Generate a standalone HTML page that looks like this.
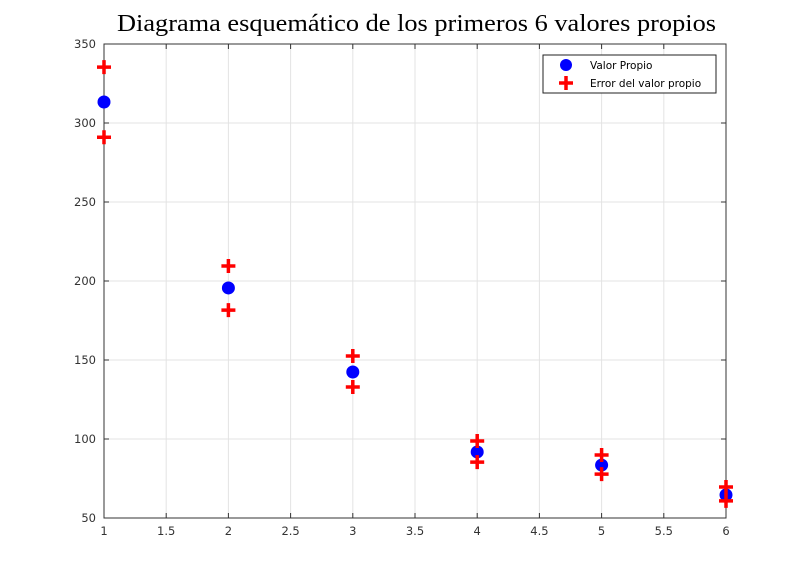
<!DOCTYPE html>
<html><head><meta charset="utf-8"><style>
body{margin:0;background:#fff;}
svg text{font-family:"DejaVu Sans","Liberation Sans",sans-serif;}
</style></head><body>
<svg id="chart" width="802" height="582" xmlns="http://www.w3.org/2000/svg">
<rect width="802" height="582" fill="#fff"/>
<text x="117" y="31" font-size="24" textLength="599" lengthAdjust="spacingAndGlyphs" style="font-family:'Liberation Serif',serif">Diagrama esquemático de los primeros 6 valores propios</text>
<g id="grid"></g><g id="axes"></g><g id="marks"></g>
<g>
<rect x="543" y="55" width="173" height="38" fill="#fff" stroke="#222" stroke-width="1"/>
<circle cx="566" cy="65" r="6" fill="#0000ff"/>
<text x="590" y="69" font-size="10.5">Valor Propio</text>
<path d="M559 83 H573 M566 76 V90" stroke="#ff0000" stroke-width="3.5"/>
<text x="590" y="87" font-size="10.5">Error del valor propio</text>
</g>
</svg>
<script>
const categories=[1,2,3,4,5,6];
const values=[313.3,195.6,142.4,91.8,83.5,64.6];
const upper=[335.4,209.5,152.5,98.7,89.9,69.6];
const lower=[291,181.6,132.9,85.4,77.8,60.8];
const xTicks=[1,1.5,2,2.5,3,3.5,4,4.5,5,5.5,6];
const yTicks=[50,100,150,200,250,300,350];
const L=104,R=726,T=44,B=518;
const xs=v=>L+(v-1)/5*(R-L);
const ys=v=>B-(v-50)/300*(B-T);
const NS="http://www.w3.org/2000/svg";
function mk(tag,attrs,parent){const e=document.createElementNS(NS,tag);for(const k in attrs)e.setAttribute(k,attrs[k]);parent.appendChild(e);return e;}
const grid=document.getElementById('grid'),axes=document.getElementById('axes'),marks=document.getElementById('marks');
mk('rect',{x:L,y:T,width:R-L,height:B-T,fill:'#fff',stroke:'none'},grid);
xTicks.forEach(t=>{
 const g=mk('line',{x1:xs(t),x2:xs(t),y1:T,y2:B,stroke:'#e3e3e3','stroke-width':1},grid);
 
 
 mk('line',{x1:xs(t),x2:xs(t),y1:B,y2:B-5,stroke:'#333'},axes);
 mk('line',{x1:xs(t),x2:xs(t),y1:T,y2:T+5,stroke:'#333'},axes);
 const tx=mk('text',{x:xs(t),y:B+17,'text-anchor':'middle','font-size':11.5,fill:'#333'},axes);
 tx.textContent=t;
 
 
});
yTicks.forEach(t=>{
 const g=mk('line',{x1:L,x2:R,y1:ys(t),y2:ys(t),stroke:'#e3e3e3','stroke-width':1},grid);
 
 
 mk('line',{x1:L,x2:L+5,y1:ys(t),y2:ys(t),stroke:'#333'},axes);
 mk('line',{x1:R,x2:R-5,y1:ys(t),y2:ys(t),stroke:'#333'},axes);
 const tx=mk('text',{x:L-8,y:ys(t)+4,'text-anchor':'end','font-size':11.5,fill:'#333'},axes);
 tx.textContent=t;
 
 
});
const frame=mk('rect',{x:L,y:T,width:R-L,height:B-T,fill:'none',stroke:'#333','stroke-width':1},axes);


categories.forEach((c,i)=>{
 const p=mk('circle',{cx:xs(c),cy:ys(values[i]),r:6.5,fill:'#0000ff'},marks);
 
 
 [upper[i],lower[i]].forEach(v=>{
  const x=xs(c),y=ys(v);
  const e=mk('path',{d:`M${x-7} ${y} H${x+7} M${x} ${y-7} V${y+7}`,stroke:'#ff0000','stroke-width':3.5},marks);
  
  
 });
});
</script>
</body></html>
